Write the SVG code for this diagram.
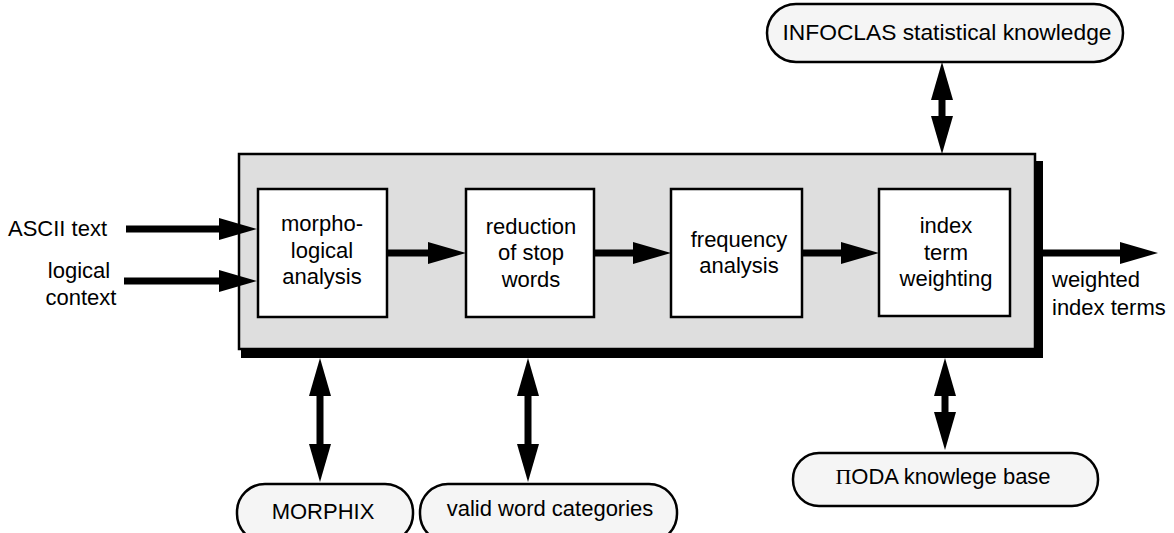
<svg xmlns="http://www.w3.org/2000/svg" width="1174" height="533" viewBox="0 0 1174 533">
<style>
text{font-family:"Liberation Sans",Arial,sans-serif;font-size:22px;fill:#000}
.c{text-anchor:middle}
.box{fill:#fff;stroke:#000;stroke-width:2.5}
.pill{fill:#f5f5f5;stroke:#000;stroke-width:2.5}
.ln{stroke:#000;stroke-width:7;fill:none}
</style>
<defs>
<marker id="ah" viewBox="0 0 38 22" markerUnits="userSpaceOnUse" markerWidth="38" markerHeight="22" refX="1" refY="11" orient="auto-start-reverse">
<path d="M0,0 L38,11 L0,22 z" fill="#000"/>
</marker>
</defs>
<g id="container">
<rect x="241" y="161" width="802" height="197" fill="#000"/>
<rect x="239" y="154" width="796" height="195" fill="#dedede" stroke="#000" stroke-width="2.5"/>
</g>
<g id="n-morph">
<rect class="box" x="258" y="189" width="129" height="128"/>
<text class="c" x="322" y="231">morpho-</text>
<text class="c" x="322" y="258">logical</text>
<text class="c" x="322" y="284">analysis</text>
</g>
<g id="n-stop">
<rect class="box" x="466" y="189" width="128" height="128"/>
<text class="c" x="531" y="234">reduction</text>
<text class="c" x="531" y="260">of stop</text>
<text class="c" x="531" y="287">words</text>
</g>
<g id="n-freq">
<rect class="box" x="671" y="189" width="131" height="128"/>
<text class="c" x="739" y="247">frequency</text>
<text class="c" x="739" y="273">analysis</text>
</g>
<g id="n-weight">
<rect class="box" x="879" y="189" width="131" height="127"/>
<text class="c" x="946" y="233">index</text>
<text class="c" x="946" y="260">term</text>
<text class="c" x="946" y="286">weighting</text>
</g>
<g id="n-infoclas">
<rect class="pill" x="767" y="4" width="356" height="58" rx="29"/>
<text class="c" x="947" y="40" textLength="329" lengthAdjust="spacingAndGlyphs">INFOCLAS statistical knowledge</text>
</g>
<g id="n-morphix">
<rect class="pill" x="237" y="484" width="176" height="58" rx="28"/>
<text class="c" x="323" y="519">MORPHIX</text>
</g>
<g id="n-valid">
<rect class="pill" x="420" y="484" width="257" height="58" rx="28"/>
<text class="c" x="550" y="516">valid word categories</text>
</g>
<g id="n-iioda">
<rect class="pill" x="793" y="453" width="305" height="53" rx="26"/>
<text class="c" x="943" y="484"><tspan font-family="'Liberation Serif',serif">Π</tspan>ODA knowlege base</text>
</g>
<g id="labels">
<text x="8" y="236">ASCII text</text>
<text class="c" x="79" y="278">logical</text>
<text class="c" x="81" y="305">context</text>
<text x="1052" y="287">weighted</text>
<text x="1052" y="315">index terms</text>
</g>
<g id="connectors">
<line class="ln" x1="126" y1="229" x2="220" y2="229" marker-end="url(#ah)"/>
<line class="ln" x1="124" y1="281" x2="220" y2="281" marker-end="url(#ah)"/>
<line class="ln" x1="387" y1="253" x2="429" y2="253" marker-end="url(#ah)"/>
<line class="ln" x1="594" y1="253" x2="634" y2="253" marker-end="url(#ah)"/>
<line class="ln" x1="802" y1="253" x2="842" y2="253" marker-end="url(#ah)"/>
<line class="ln" x1="1043" y1="253" x2="1121" y2="253" marker-end="url(#ah)"/>
<line class="ln" x1="942" y1="99" x2="942" y2="117" marker-start="url(#ah)" marker-end="url(#ah)"/>
<line class="ln" x1="320" y1="395" x2="320" y2="445" marker-start="url(#ah)" marker-end="url(#ah)"/>
<line class="ln" x1="528" y1="395" x2="528" y2="445" marker-start="url(#ah)" marker-end="url(#ah)"/>
<line class="ln" x1="945" y1="395" x2="945" y2="413" marker-start="url(#ah)" marker-end="url(#ah)"/>
</g>
</svg>
